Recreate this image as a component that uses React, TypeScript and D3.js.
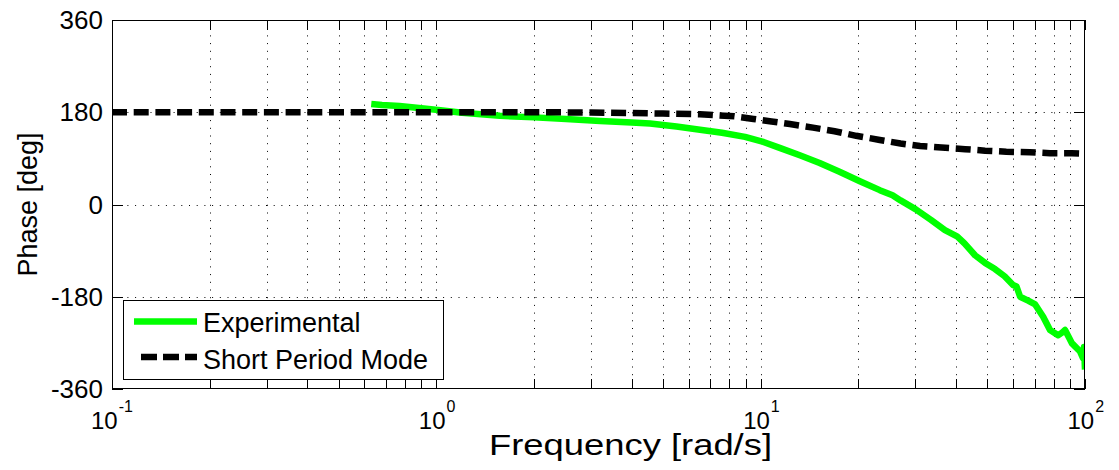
import React from "react";
import * as d3 from "d3";

const expFreq = [0.63, 0.68, 0.77, 0.9, 1.03, 1.2, 1.57, 2.0, 2.51, 3.2, 4.0, 4.56, 5.5, 6.5, 7.6, 8.95, 10.2, 11.5, 13.2, 15.2, 17.5, 20.3, 23.3, 25.5, 27, 30, 33.5, 37, 40.3, 42.5, 45.8, 49.2, 52.8, 56.5, 60.0, 61.5, 63.1, 67, 70.2, 74.3, 78, 82.6, 85, 86.8, 89, 91.2, 96.6, 98.6, 99.3, 100];
const expPhase = [196, 194, 192, 188, 184, 179, 173, 170, 167, 163, 160, 158, 152, 146, 140, 132, 122, 110, 96, 81, 64, 45, 28, 18, 8, -9, -30, -50, -62, -76, -99, -114, -126, -140, -157, -160, -180, -188, -195, -219, -245, -255, -250, -245, -258, -271, -287, -300, -278, -322];

const spFreq = [0.1, 1, 2, 3, 4, 5, 6.5, 8.3, 9.5, 10.8, 12.3, 14.5, 16.9, 19.7, 23.3, 27, 31, 36.1, 42.7, 49.2, 57.2, 67.6, 78, 91, 100];
const spPhase = [180, 180, 180, 179.5, 178.5, 177.5, 176, 172, 167, 162, 157, 150, 143, 134, 126, 119, 114, 111, 108, 105, 103, 102, 100, 100, 99];

const yTicks = [-360, -180, 0, 180, 360];
const xDecades = [0.1, 1, 10, 100];
const xDecadeExps = ["-1", "0", "1", "2"];
const legendLabels = ["Experimental", "Short Period Mode"];
const xLabel = "Frequency [rad/s]";
const yLabel = "Phase [deg]";

const FONT = "'Liberation Sans', Arial, Helvetica, sans-serif";

export default function App() {
  const left = 112, right = 1085, top = 20, bottom = 389;
  const xs = d3.scaleLog().domain([0.1, 100]).range([left, right]);
  const ys = d3.scaleLinear().domain([-360, 360]).range([bottom, top]);

  const minorTicks: number[] = [];
  [0.1, 1, 10].forEach((d) => {
    for (let k = 1; k <= 9; k++) minorTicks.push(d * k);
  });
  minorTicks.push(100);

  const line = d3
    .line<[number, number]>()
    .x((d) => xs(d[0]))
    .y((d) => ys(d[1]));

  const expData = expFreq.map((f, i) => [f, expPhase[i]] as [number, number]);
  const spData = spFreq.map((f, i) => [f, spPhase[i]] as [number, number]);

  const tickLen = 10;
  const yTickLen = 11;

  return (
    <div style={{ position: "fixed", left: 0, top: 0 }}>
      <svg width={1119} height={470} style={{ display: "block", background: "#fff" }} fontFamily={FONT}>
        <rect x={0} y={0} width={1119} height={470} fill="#fff" />
        <defs>
          <clipPath id="plotclip">
            <rect x={left} y={top} width={right - left} height={bottom - top} />
          </clipPath>
        </defs>
        {/* grid */}
        <g stroke="#000" strokeWidth={1} strokeDasharray="1 6.7">
          {minorTicks
            .filter((t) => t > 0.1 && t < 100)
            .map((t, i) => (
              <line key={"gv" + i} x1={Math.round(xs(t)) + 0.5} x2={Math.round(xs(t)) + 0.5} y1={top} y2={bottom} />
            ))}
          {yTicks
            .filter((t) => t > -360 && t < 360)
            .map((t, i) => (
              <line key={"gh" + i} x1={left} x2={right} y1={Math.round(ys(t)) + 0.5} y2={Math.round(ys(t)) + 0.5} />
            ))}
        </g>
        {/* ticks */}
        <g stroke="#000" strokeWidth={1}>
          {minorTicks.map((t, i) => {
            const x = Math.round(xs(t)) + 0.5;
            return (
              <g key={"xt" + i}>
                <line x1={x} x2={x} y1={bottom} y2={bottom - tickLen} />
                <line x1={x} x2={x} y1={top} y2={top + tickLen} />
              </g>
            );
          })}
          {yTicks.map((t, i) => {
            const y = Math.round(ys(t)) + 0.5;
            return (
              <g key={"yt" + i}>
                <line x1={left} x2={left + yTickLen} y1={y} y2={y} />
                <line x1={right} x2={right - yTickLen} y1={y} y2={y} />
              </g>
            );
          })}
        </g>
        {/* data */}
        <g clipPath="url(#plotclip)" fill="none">
          <path d={line(expData) || ""} stroke="#00ff00" strokeWidth={6.5} strokeLinejoin="round" />
          <path d={line(spData) || ""} stroke="#000" strokeWidth={6.5} strokeDasharray="15 6.7" />
        </g>
        {/* frame */}
        <rect x={left + 0.5} y={top + 0.5} width={right - left - 1} height={bottom - top - 1} fill="none" stroke="#000" strokeWidth={1} />
        {/* y tick labels */}
        <g fontSize={26} textAnchor="end" fill="#000">
          {yTicks.map((t, i) => (
            <text key={"yl" + i} x={103} y={ys(t) + 9}>
              {String(t)}
            </text>
          ))}
        </g>
        {/* x tick labels */}
        <g fill="#000">
          {xDecades.map((d, i) => {
            const x = xs(d);
            const supW = xDecadeExps[i].length === 2 ? 15 : 8;
            const mainW = 27;
            const start = x - (mainW + supW) / 2;
            return (
              <text key={"xl" + i} x={start} y={429} fontSize={24}>
                10
                <tspan dx={1} dy={-17} fontSize={16}>
                  {xDecadeExps[i]}
                </tspan>
              </text>
            );
          })}
        </g>
        {/* axis labels */}
        <text x={489} y={455} fontSize={29} textLength={283} lengthAdjust="spacingAndGlyphs" fill="#000">
          {xLabel}
        </text>
        <text transform={`translate(37, ${(top + bottom) / 2}) rotate(-90)`} textAnchor="middle" fontSize={27} fill="#000">
          {yLabel}
        </text>
        {/* legend */}
        <g>
          <rect x={123.5} y={300.5} width={320} height={79} fill="#fff" stroke="#000" strokeWidth={1} />
          <line x1={134} x2={197} y1={321.5} y2={321.5} stroke="#00ff00" strokeWidth={6.5} />
          <line x1={141} x2={197} y1={357} y2={357} stroke="#000" strokeWidth={6.5} strokeDasharray="16 6" />
          <text x={203} y={332} fontSize={27} fill="#000">
            {legendLabels[0]}
          </text>
          <text x={203} y={369} fontSize={27} fill="#000">
            {legendLabels[1]}
          </text>
        </g>
      </svg>
    </div>
  );
}
